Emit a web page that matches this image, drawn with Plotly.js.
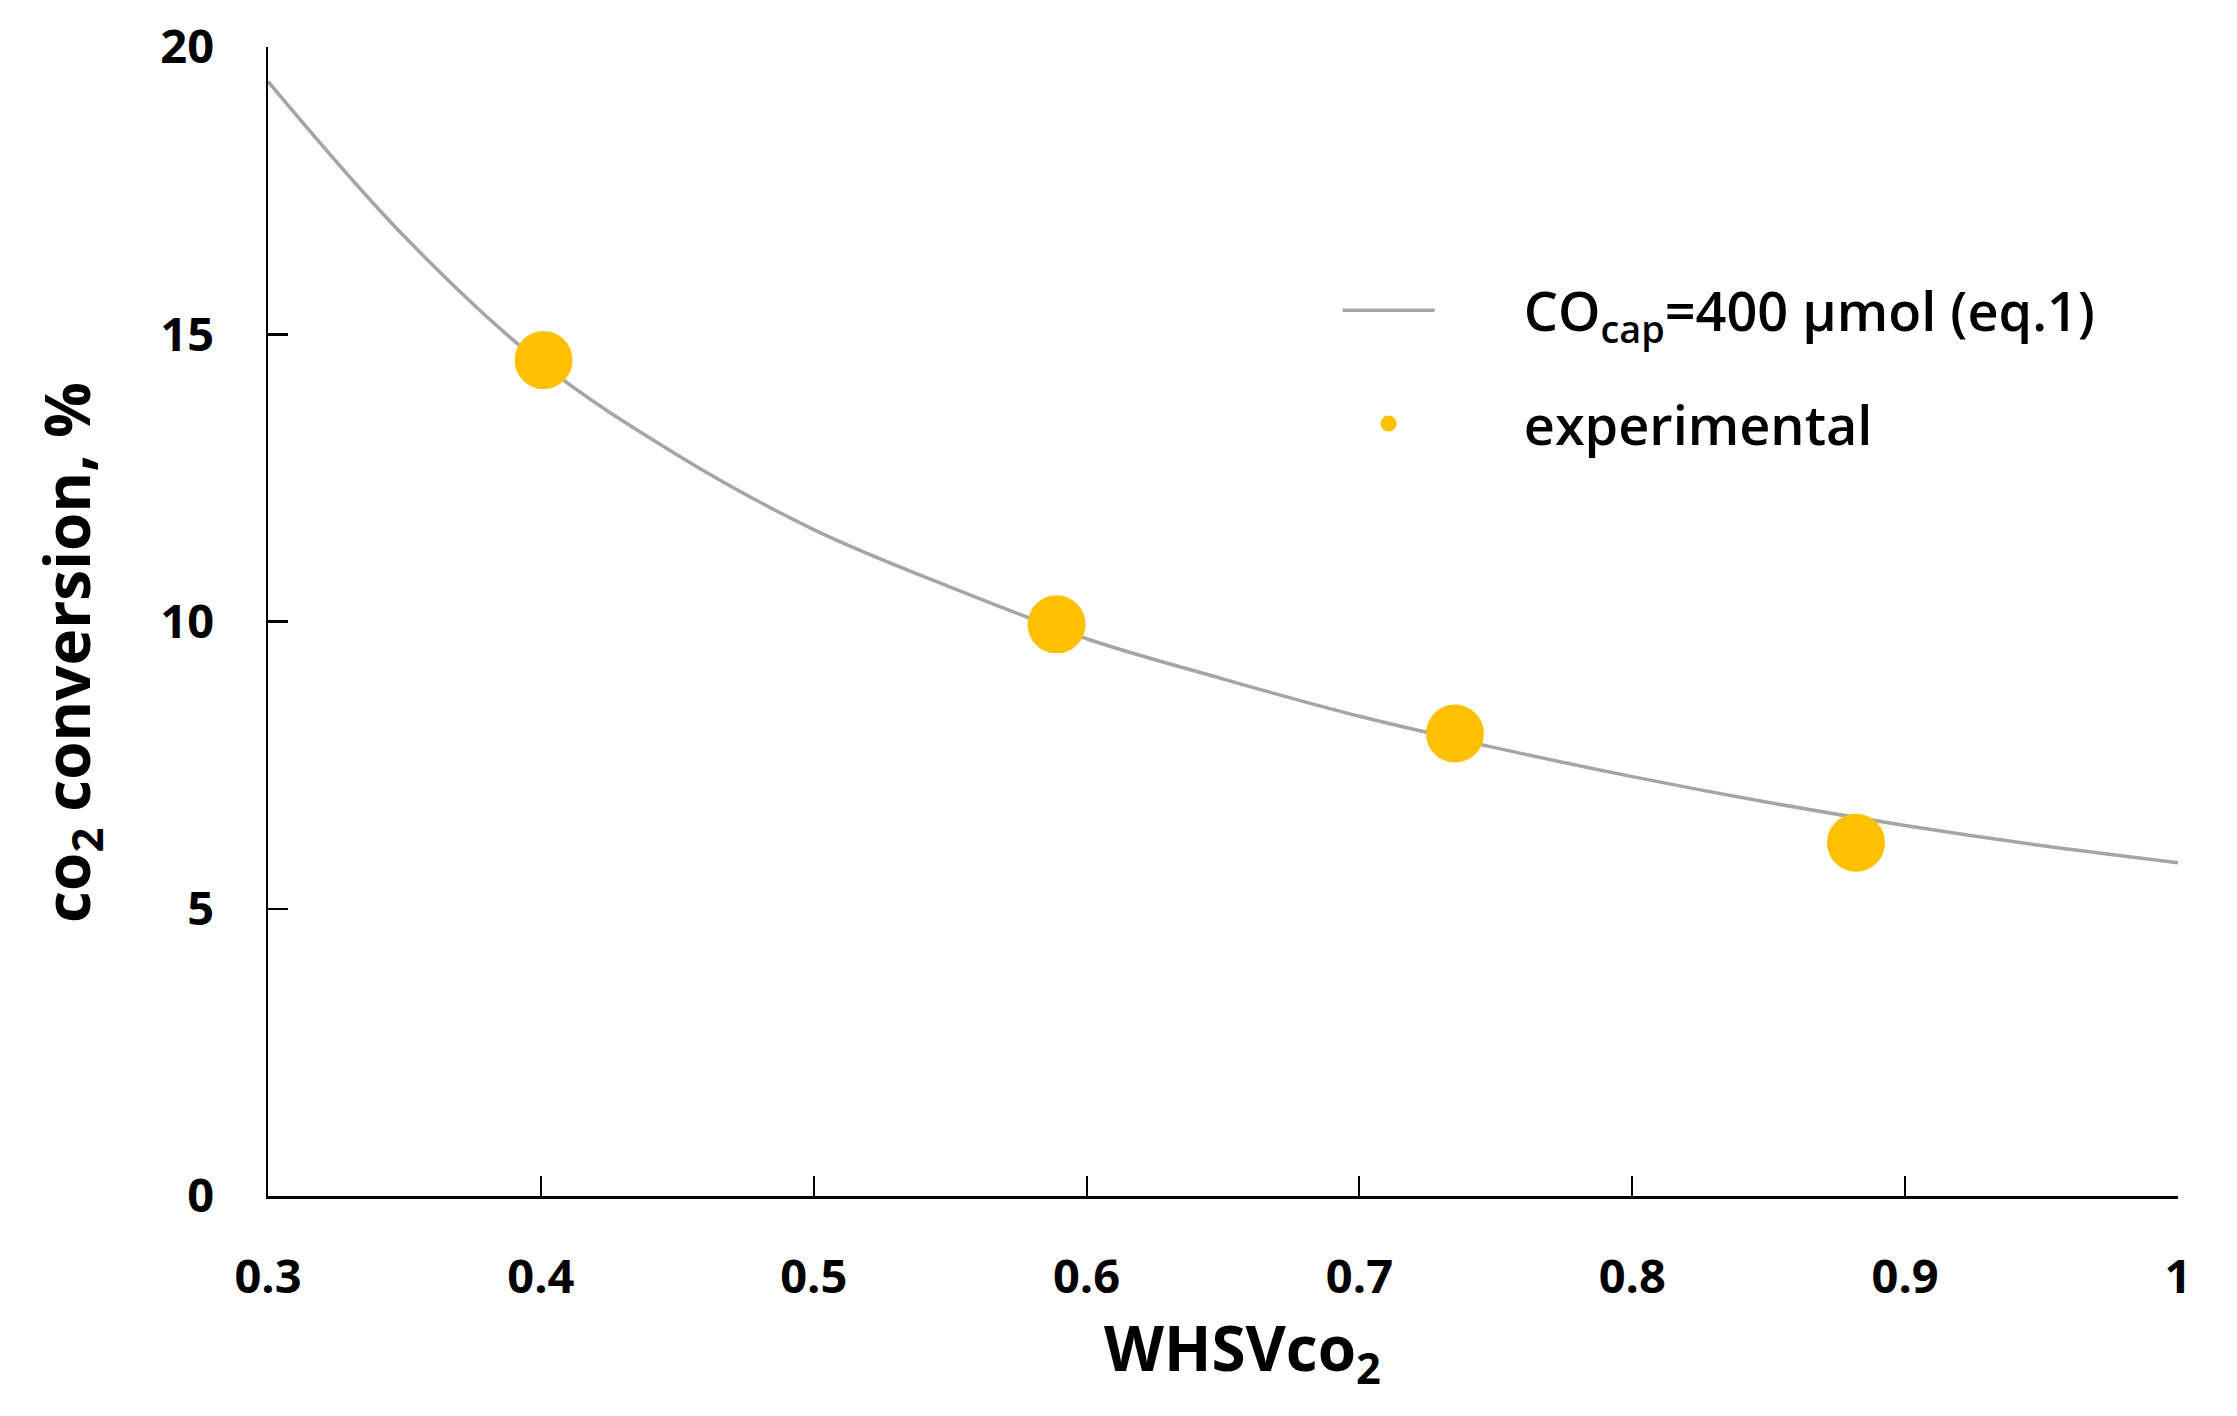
<!DOCTYPE html>
<html>
<head>
<meta charset="utf-8">
<script src="https://cdn.plot.ly/plotly-3.0.1.min.js"></script>
<style>
html,body{margin:0;padding:0;background:#fff;}
#chart{width:2237px;height:1416px;}
</style>
</head>
<body>
<div id="chart"></div>
<script>
// Model curve
const curveX = [0.30, 0.35, 0.40, 0.45, 0.50, 0.55, 0.60, 0.65, 0.70, 0.75, 0.80, 0.85, 0.90, 0.95, 1.00];
const curveY = [19.4, 16.7, 14.5, 12.9, 11.6, 10.6, 9.7, 9.0, 8.35, 7.8, 7.3, 6.85, 6.45, 6.1, 5.8];
// Experimental points
const expX = [0.401, 0.589, 0.735, 0.882];
const expY = [14.55, 9.95, 8.05, 6.15];
// Labels
const curveName = 'CO<sub>cap</sub>=400 µmol (eq.1)';
const expName = 'experimental';
const xTitle = 'WHSVco<sub>2</sub>';
const yTitle = 'co<sub>2</sub> conversion, %';
const xTicks = [0.3, 0.4, 0.5, 0.6, 0.7, 0.8, 0.9, 1];
const xTickText = ['0.3', '0.4', '0.5', '0.6', '0.7', '0.8', '0.9', '1'];
const yTicks = [0, 5, 10, 15, 20];

const FONT = 'Open Sans, Noto Sans, sans-serif';
const PAD = '\u00A0\u00A0\u00A0\u00A0\u00A0\u00A0';

const traces = [
  {
    x: curveX, y: curveY, name: PAD + curveName, type: 'scatter', mode: 'lines',
    legendgroup: 'a',
    line: {color: '#A5A5A5', width: 3.5, shape: 'spline', smoothing: 1.0}
  },
  {
    x: expX, y: expY, name: PAD + expName, type: 'scatter', mode: 'markers',
    legendgroup: 'b',
    marker: {color: '#FFC000', size: 58}
  }
];

const layout = {
  width: 2237, height: 1416,
  paper_bgcolor: '#fff', plot_bgcolor: '#fff',
  margin: {l: 268, r: 59, t: 47, b: 220},
  font: {family: FONT, color: '#000', size: 42},
  showlegend: true,
  legend: {
    x: 0.56, y: 0.807, xanchor: 'left', yanchor: 'top',
    bgcolor: 'rgba(0,0,0,0)',
    font: {family: FONT, size: 54, color: '#000', weight: 600},
    itemwidth: 92, traceorder: 'grouped', tracegroupgap: 40
  },
  xaxis: {
    range: [0.3, 1.0], tickvals: xTicks, ticktext: xTickText,
    showgrid: false, zeroline: false,
    showline: true, linecolor: '#000', linewidth: 3,
    ticks: 'inside', ticklen: 20, tickwidth: 2, tickcolor: '#000',
    ticklabelstandoff: 38,
    tickfont: {family: FONT, size: 47, weight: 'bold'},
    title: {text: ''}
  },
  yaxis: {
    range: [0, 20], tickvals: yTicks,
    showgrid: false, zeroline: false,
    showline: true, linecolor: '#000', linewidth: 2.5,
    ticks: 'inside', ticklen: 20, tickwidth: 2.5, tickcolor: '#000',
    ticklabelstandoff: 42,
    tickfont: {family: FONT, size: 47, weight: 'bold'},
    title: {text: ''}
  },
  annotations: [
    {
      text: xTitle, xref: 'paper', yref: 'paper', x: 0.51, y: -0.135,
      xanchor: 'center', yanchor: 'middle', showarrow: false,
      font: {family: FONT, size: 62, weight: 'bold', color: '#000'}
    },
    {
      text: yTitle, xref: 'paper', yref: 'paper', x: -0.104, y: 0.473,
      xanchor: 'center', yanchor: 'middle', showarrow: false, textangle: -90,
      font: {family: FONT, size: 62, weight: 'bold', color: '#000'}
    }
  ]
};

Plotly.newPlot('chart', traces, layout, {displayModeBar: false, staticPlot: true});
</script>
</body>
</html>
